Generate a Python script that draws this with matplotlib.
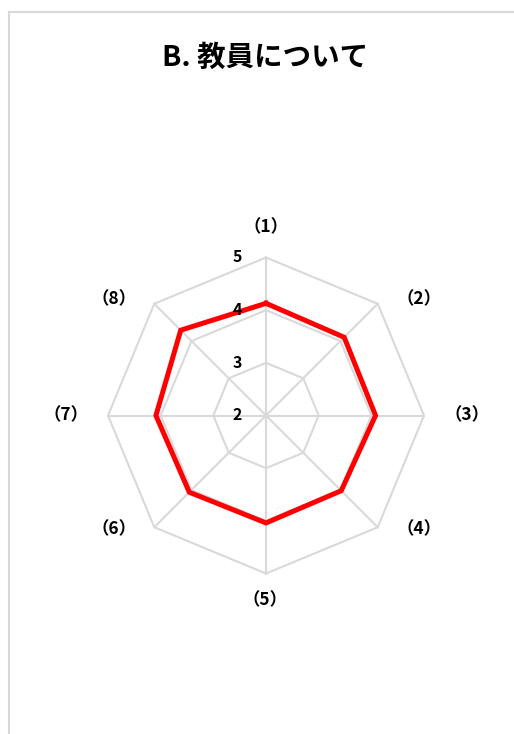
import numpy as np
import matplotlib
matplotlib.use("Agg")
import matplotlib.pyplot as plt
from matplotlib.lines import Line2D

plt.rcParams['font.family'] = ['Noto Sans CJK JP', 'DejaVu Sans']

title = "B. 教員について"
categories = ["（1）", "（2）", "（3）", "（4）", "（5）", "（6）", "（7）", "（8）"]
values = [4.13, 4.10, 4.08, 4.02, 4.04, 4.06, 4.09, 4.29]
ring_ticks = [2, 3, 4, 5]
ring_labels = ["2", "3", "4", "5"]

W, H = 514, 734
fig = plt.figure(figsize=(W / 100, H / 100), dpi=100)
fig.patch.set_facecolor("white")

border_col = "#d9d9d9"
fig.add_artist(Line2D([9 / W, 1], [1 - 12 / H, 1 - 12 / H], transform=fig.transFigure,
                      color=border_col, lw=1.5))
fig.add_artist(Line2D([9 / W, 9 / W], [0, 1 - 12 / H], transform=fig.transFigure,
                      color=border_col, lw=1.5))

fig.text(265 / W, 1 - 58 / H, title, ha="center", va="center",
         fontsize=20.5, fontweight="bold", color="black")

cx, cy, R = 266, 415.5, 158
ax = fig.add_axes([(cx - R) / W, (H - cy - R) / H, 2 * R / W, 2 * R / H], projection="polar")
ax.set_theta_zero_location("N")
ax.set_theta_direction(-1)
ax.set_ylim(min(ring_ticks), max(ring_ticks))
ax.spines["polar"].set_visible(False)
ax.grid(False)
ax.set_xticks([])
ax.set_yticks([])
ax.patch.set_alpha(0)

n = len(categories)
theta = np.arange(n) * 2 * np.pi / n
theta_c = np.append(theta, theta[0])

grid_col = "#d9d9d9"
for rt in ring_ticks[1:]:
    ax.plot(theta_c, [rt] * (n + 1), color=grid_col, lw=1.5, zorder=1, clip_on=False)
for t in theta:
    ax.plot([t, t], [ring_ticks[0], ring_ticks[-1]], color=grid_col, lw=1.5, zorder=1, clip_on=False)

vals_c = values + [values[0]]
ax.plot(theta_c, vals_c, color="#ff0000", lw=3.6, zorder=3, clip_on=False,
        solid_joinstyle="miter")

for rt, lab in zip(ring_ticks, ring_labels):
    ax.annotate(lab, xy=(0, rt), xytext=(-29, 0), textcoords="offset pixels",
                ha="center", va="center", fontsize=11.5, fontweight="bold",
                color="black", zorder=4, annotation_clip=False)

offsets = [(0, 30), (41, 5), (43, 0), (41, -2), (-1, -26.5), (-40, -2), (-42, 0), (-40, 5)]
for t, lab, (dx, dy) in zip(theta, categories, offsets):
    ax.annotate(lab, xy=(t, ring_ticks[-1]), xytext=(dx, dy), textcoords="offset pixels",
                ha="center", va="center", fontsize=12.5, fontweight="bold",
                color="black", annotation_clip=False)

fig.savefig("out.png", dpi=100, facecolor="white")
